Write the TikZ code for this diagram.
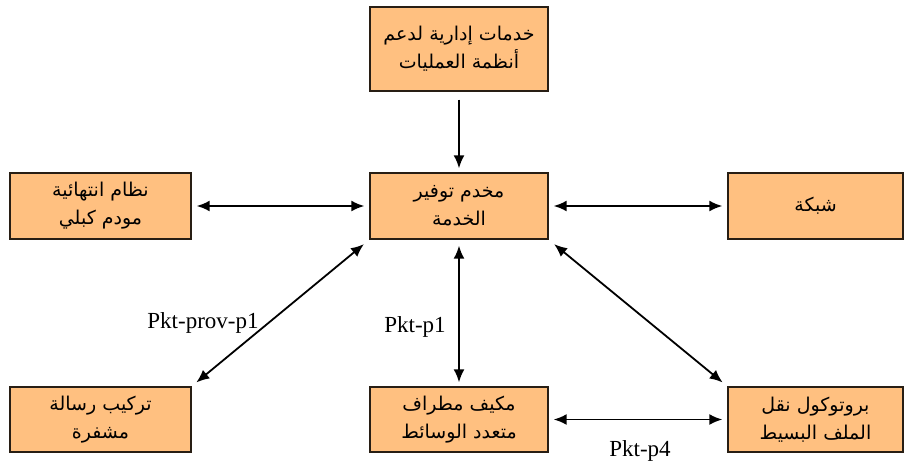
\documentclass[tikz,border=0pt]{standalone}
\usepackage{fontspec}
\setmainfont{Liberation Serif}
\newfontfamily\arabicfont[Script=Arabic]{DejaVu Sans}
\TeXXeTstate=1
\usetikzlibrary{arrows.meta}
\definecolor{boxfill}{RGB}{255,192,128}
\definecolor{boxline}{RGB}{40,30,20}
\tikzset{
  box/.style={draw=boxline, line width=1.4pt, fill=boxfill, inner sep=0pt, align=center,
    font=\arabicfont\fontsize{19}{28}\selectfont},
  wide/.style={minimum width=181pt},
  mid/.style={minimum width=178pt},
  rgt/.style={minimum width=175pt},
  conn/.style={line width=1.8pt, -{Latex[length=13pt,width=11pt]}},
  biconn/.style={line width=1.8pt, {Latex[length=13pt,width=11pt]}-{Latex[length=13pt,width=11pt]}},
  lbl/.style={font=\fontsize{23}{27}\selectfont, inner sep=0pt}
}
\begin{document}
\begin{tikzpicture}[x=1pt,y=-1pt]
\useasboundingbox (0,0) rectangle (904,466);
\node[box, mid, minimum height=84pt] (top) at (459,49) {\beginR خدمات إدارية لدعم\endR\\\beginR أنظمة العمليات\endR};
\node[box, wide, minimum height=66pt] (lmid) at (100.5,206) {\beginR نظام انتهائية\endR\\\beginR مودم كبلي\endR};
\node[box, mid, minimum height=66pt] (cen) at (459,206) {\beginR مخدم توفير\endR\\\beginR الخدمة\endR};
\node[box, rgt, minimum height=66pt] (rmid) at (815.5,206) {\beginR شبكة\endR};
\node[box, wide, minimum height=65pt] (lbot) at (100.5,419.5) {\beginR تركيب رسالة\endR\\\beginR مشفرة\endR};
\node[box, mid, minimum height=65pt] (cbot) at (459,419.5) {\beginR مكيف مطراف\endR\\\beginR متعدد الوسائط\endR};
\node[box, rgt, minimum height=65pt] (rbot) at (815.5,419.5) {\beginR بروتوكول نقل\endR\\\beginR الملف البسيط\endR};

\draw[conn, shorten <=8pt, shorten >=4pt] (top.south) -- (cen.north);
\draw[biconn, shorten <=5pt, shorten >=5pt] (lmid.east) -- (cen.west);
\draw[biconn, shorten <=5pt, shorten >=5pt] (cen.east) -- (rmid.west);
\draw[biconn, shorten <=7pt, shorten >=6pt] (cen.south west) -- (lbot.north east);
\draw[biconn, shorten <=6pt, shorten >=4pt] (cen.south) -- (cbot.north);
\draw[biconn, shorten <=7pt, shorten >=6pt] (cen.south east) -- (rbot.north west);
\draw[biconn, shorten <=5pt, shorten >=5pt] (cbot.east) -- (rbot.west);

\node[lbl] (l1) at (203,323) {Pkt-prov-p1};
\node[lbl] (l2) at (415,327) {Pkt-p1};
\node[lbl] (l3) at (640,451) {Pkt-p4};
\end{tikzpicture}
\end{document}
